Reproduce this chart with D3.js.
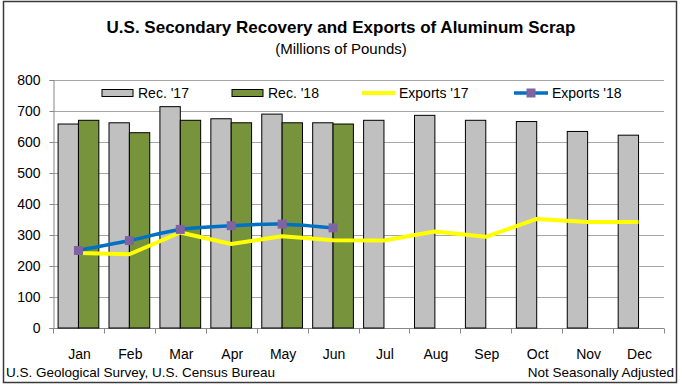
<!DOCTYPE html>
<html>
<head>
  <meta charset="utf-8">
  <script src="https://d3js.org/d3.v7.min.js"></script>
  <style>
    body { margin: 0; background: #fff; }
    text { font-family: "Liberation Sans", Arial, sans-serif; fill: #000; }
  </style>
</head>
<body>
<script type="text/javascript">

  // data (millions of pounds)
  var months = ["Jan","Feb","Mar","Apr","May","Jun","Jul","Aug","Sep","Oct","Nov","Dec"];
  var rec17 = [658, 662, 714, 675, 690, 662, 670, 686, 670, 666, 634, 622];
  var rec18 = [670, 630, 670, 662, 662, 658];
  var exp17 = [242, 238, 308, 271, 296, 283, 282, 311, 294, 352, 342, 342];
  var exp18 = [250, 282, 318, 330, 335, 323];
  var yTicks = [0, 100, 200, 300, 400, 500, 600, 700, 800];

  var w = 682, h = 389;
  var margin = {top: 80, right: 18, bottom: 61, left: 53};

  var svg = d3.select("body").append("svg")
              .attr("width", w).attr("height", h);

  // chart frame
  svg.append("rect")
     .attr("x", 3.5).attr("y", 1.5)
     .attr("width", 673).attr("height", 381)
     .attr("fill", "#fff").attr("stroke", "#3a3a3a").attr("stroke-width", 1.5);

  var x = d3.scaleBand().domain(months).range([margin.left, w - margin.right]);
  var xs = d3.scaleBand().domain(["r17","r18"]).range([0, x.bandwidth()]).paddingOuter(0.25);
  var y = d3.scaleLinear().domain([0, 800]).range([h - margin.bottom, margin.top]);

/* grid + axes */
  svg.append("g").selectAll("line")
     .data(yTicks.filter(function(d){ return d > 0; }))
     .enter().append("line")
     .attr("x1", margin.left).attr("x2", w - margin.right)
     .attr("y1", function(d){ return Math.round(y(d)) + 0.5; })
     .attr("y2", function(d){ return Math.round(y(d)) + 0.5; })
     .attr("stroke", "#a6a6a6").attr("stroke-width", 1);

  var yAxis = svg.append("g")
     .attr("transform", "translate(" + (margin.left + 0.5) + ",0)")
     .call(d3.axisLeft(y).tickValues(yTicks).tickSize(4).tickPadding(9));
  yAxis.select(".domain").attr("stroke", "#888");
  yAxis.selectAll(".tick line").attr("stroke", "#888");
  yAxis.selectAll("text").style("font-size", "14px").attr("fill", "#000");

  var xAxis = svg.append("g")
     .attr("transform", "translate(0," + (Math.round(y(0)) + 0.5) + ")");
  xAxis.append("line")
     .attr("x1", margin.left).attr("x2", w - margin.right)
     .attr("stroke", "#888");
  xAxis.selectAll("line.tk")
     .data(months.concat(["end"]))
     .enter().append("line").attr("class", "tk")
     .attr("x1", function(d,i){ return Math.round(margin.left + i * x.step()) + 0.5; })
     .attr("x2", function(d,i){ return Math.round(margin.left + i * x.step()) + 0.5; })
     .attr("y1", 0).attr("y2", 5)
     .attr("stroke", "#888");
  xAxis.selectAll("text")
     .data(months)
     .enter().append("text")
     .attr("x", function(d){ return x(d) + x.bandwidth() / 2 + 1; })
     .attr("y", 30)
     .attr("text-anchor", "middle")
     .style("font-size", "14px")
     .text(function(d){ return d; });

/* bars */
  svg.append("g").selectAll("rect")
     .data(rec17)
     .enter().append("rect")
     .attr("x", function(d,i){ return x(months[i]) + xs("r17"); })
     .attr("y", function(d){ return y(d); })
     .attr("width", xs.bandwidth())
     .attr("height", function(d){ return y(0) - y(d); })
     .attr("fill", "#c0c0c0").attr("stroke", "#000").attr("stroke-width", 1);

  svg.append("g").selectAll("rect")
     .data(rec18)
     .enter().append("rect")
     .attr("x", function(d,i){ return x(months[i]) + xs("r18"); })
     .attr("y", function(d){ return y(d); })
     .attr("width", xs.bandwidth())
     .attr("height", function(d){ return y(0) - y(d); })
     .attr("fill", "#77933c").attr("stroke", "#000").attr("stroke-width", 1);

/* lines */
  var cx = function(d,i){ return x(months[i]) + x.bandwidth() / 2; };

  svg.append("path")
     .datum(exp17)
     .attr("d", d3.line().x(cx).y(function(d){ return y(d); }))
     .attr("fill", "none").attr("stroke", "#ffff00").attr("stroke-width", 4)
     .attr("stroke-linejoin", "round");

  svg.append("path")
     .datum(exp18)
     .attr("d", d3.line().x(cx).y(function(d){ return y(d); }).curve(d3.curveCatmullRom.alpha(0.5)))
     .attr("fill", "none").attr("stroke", "#0070c0").attr("stroke-width", 3.5);

  svg.append("g").selectAll("rect")
     .data(exp18)
     .enter().append("rect")
     .attr("x", function(d,i){ return cx(d,i) - 4.5; })
     .attr("y", function(d){ return y(d) - 4.5; })
     .attr("width", 9).attr("height", 9)
     .attr("fill", "#8064a2");

/* titles */
  svg.append("text")
     .attr("x", 341).attr("y", 33)
     .attr("text-anchor", "middle")
     .style("font-size", "17px").style("font-weight", "bold")
     .text("U.S. Secondary Recovery and Exports of Aluminum Scrap");

  svg.append("text")
     .attr("x", 341).attr("y", 54)
     .attr("text-anchor", "middle")
     .style("font-size", "15px")
     .text("(Millions of Pounds)");

  svg.append("text")
     .attr("x", 6).attr("y", 377)
     .style("font-size", "13.5px")
     .text("U.S. Geological Survey, U.S. Census Bureau");

  svg.append("text")
     .attr("x", 674).attr("y", 377)
     .attr("text-anchor", "end")
     .style("font-size", "13.5px")
     .text("Not Seasonally Adjusted");

/* legend */
  var legend = svg.append("g").attr("class", "legend");
  var ly = 93;

  legend.append("rect").attr("x", 102).attr("y", ly - 3.5).attr("width", 31).attr("height", 7)
        .attr("fill", "#c0c0c0").attr("stroke", "#000");
  legend.append("text").attr("x", 138).attr("y", ly + 5).style("font-size", "14px").text("Rec. '17");

  legend.append("rect").attr("x", 232).attr("y", ly - 3.5).attr("width", 31).attr("height", 7)
        .attr("fill", "#77933c").attr("stroke", "#000");
  legend.append("text").attr("x", 268).attr("y", ly + 5).style("font-size", "14px").text("Rec. '18");

  legend.append("line").attr("x1", 362).attr("x2", 395).attr("y1", ly).attr("y2", ly)
        .attr("stroke", "#ffff00").attr("stroke-width", 4);
  legend.append("text").attr("x", 399).attr("y", ly + 5).style("font-size", "14px").text("Exports '17");

  legend.append("line").attr("x1", 514).attr("x2", 548).attr("y1", ly).attr("y2", ly)
        .attr("stroke", "#0070c0").attr("stroke-width", 3.5);
  legend.append("rect").attr("x", 526.5).attr("y", ly - 4.5).attr("width", 9).attr("height", 9)
        .attr("fill", "#8064a2");
  legend.append("text").attr("x", 552).attr("y", ly + 5).style("font-size", "14px").text("Exports '18");

</script>
</body>
</html>
